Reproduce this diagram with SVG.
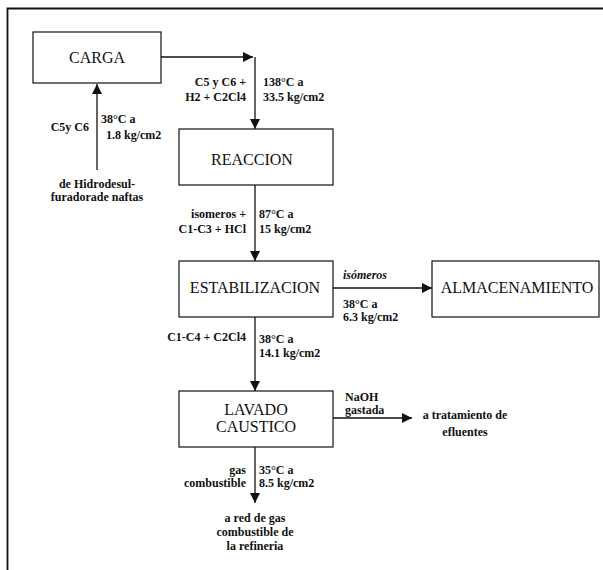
<svg xmlns="http://www.w3.org/2000/svg" width="603" height="570" viewBox="0 0 603 570">
<defs>
<style>
.box{fill:#fff;stroke:#111;stroke-width:1.2}
.big{font-family:"Liberation Serif",serif;font-size:16px;fill:#111;text-anchor:middle}
.sm{font-family:"Liberation Serif",serif;font-size:12px;font-weight:bold;fill:#111}
.r{text-anchor:end}
.m{text-anchor:middle}
.ln{fill:none;stroke:#111;stroke-width:1.3}
</style>
<marker id="ah" markerUnits="userSpaceOnUse" markerWidth="10" markerHeight="10" refX="10" refY="5" orient="auto">
<path d="M0,0 L10,5 L0,10 z" fill="#111"/>
</marker>
</defs>
<rect width="603" height="570" fill="#fff"/>
<path d="M7.5,570 V8.5 H603" fill="none" stroke="#111" stroke-width="1.8"/>

<g id="connectors">
<path class="ln" d="M161,57 H253" marker-end="url(#ah)"/>
<path class="ln" d="M255,57 V129" marker-end="url(#ah)"/>
<path class="ln" d="M97,170 V84" marker-end="url(#ah)"/>
<path class="ln" d="M255,185 V261" marker-end="url(#ah)"/>
<path class="ln" d="M333,288 H432" marker-end="url(#ah)"/>
<path class="ln" d="M255,317 V391" marker-end="url(#ah)"/>
<path class="ln" d="M333,418 H412" marker-end="url(#ah)"/>
<path class="ln" d="M255,447 V503" marker-end="url(#ah)"/>
</g>

<g id="carga">
<rect class="box" x="33" y="32" width="128" height="51"/>
<text class="big" x="97" y="63">CARGA</text>
</g>
<g id="reaccion">
<rect class="box" x="179" y="129" width="154" height="56"/>
<text class="big" x="252" y="165">REACCION</text>
</g>
<g id="estabilizacion">
<rect class="box" x="179" y="261" width="154" height="56"/>
<text class="big" x="255" y="293">ESTABILIZACION</text>
</g>
<g id="almacenamiento">
<rect class="box" x="432" y="261" width="167" height="56"/>
<text class="big" x="517" y="293">ALMACENAMIENTO</text>
</g>
<g id="lavado">
<rect class="box" x="179" y="391" width="154" height="56"/>
<text class="big" x="256" y="415">LAVADO</text>
<text class="big" x="256" y="432">CAUSTICO</text>
</g>

<g id="labels">
<text class="sm r" x="246" y="86">C5 y C6 +</text>
<text class="sm r" x="246" y="101">H2 + C2Cl4</text>
<text class="sm" x="263" y="86">138°C a</text>
<text class="sm" x="263" y="101">33.5 kg/cm2</text>

<text class="sm r" x="89" y="131">C5y C6</text>
<text class="sm" x="101" y="123">38°C a</text>
<text class="sm" x="106" y="139">1.8 kg/cm2</text>
<text class="sm m" x="97" y="188">de Hidrodesul-</text>
<text class="sm m" x="97" y="201">furadorade naftas</text>

<text class="sm r" x="246" y="218">isomeros +</text>
<text class="sm r" x="246" y="233">C1-C3 + HCl</text>
<text class="sm" x="259" y="218">87°C a</text>
<text class="sm" x="259" y="233">15 kg/cm2</text>

<text class="sm" x="343" y="279" font-style="italic">isómeros</text>
<text class="sm" x="343" y="308">38°C a</text>
<text class="sm" x="343" y="321">6.3 kg/cm2</text>

<text class="sm r" x="246" y="341">C1-C4 + C2Cl4</text>
<text class="sm" x="259" y="343">38°C a</text>
<text class="sm" x="259" y="357">14.1 kg/cm2</text>

<text class="sm" x="345" y="401">NaOH</text>
<text class="sm" x="345" y="414">gastada</text>
<text class="sm m" x="465" y="419">a tratamiento de</text>
<text class="sm m" x="465" y="436">efluentes</text>

<text class="sm r" x="246" y="474">gas</text>
<text class="sm r" x="246" y="487">combustible</text>
<text class="sm" x="259" y="474">35°C a</text>
<text class="sm" x="259" y="487">8.5 kg/cm2</text>

<text class="sm m" x="255" y="522">a red de gas</text>
<text class="sm m" x="255" y="536">combustible de</text>
<text class="sm m" x="255" y="550">la refineria</text>
</g>
</svg>
